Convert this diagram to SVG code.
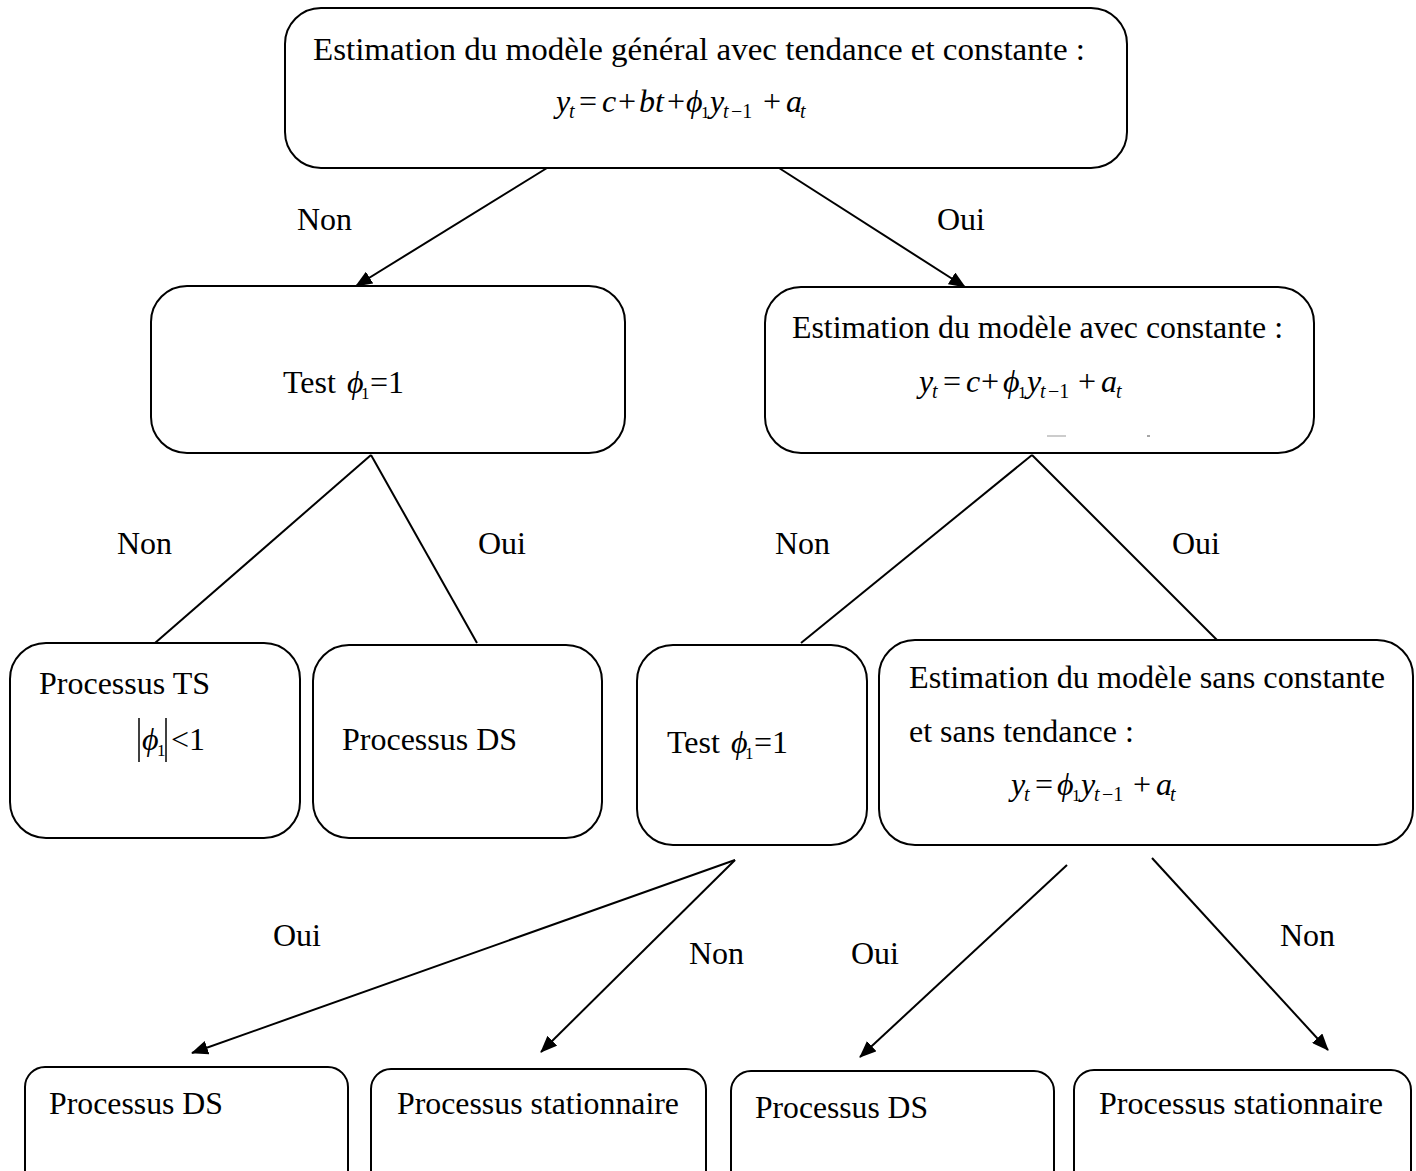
<svg xmlns="http://www.w3.org/2000/svg" width="1416" height="1171" viewBox="0 0 1416 1171">
<style>
.box{fill:#fff;stroke:#000;stroke-width:2}
.t{font-family:"Liberation Serif","Times New Roman","DejaVu Serif",serif;font-size:32px;fill:#000}
.m{font-family:"Liberation Serif","Times New Roman","DejaVu Serif",serif;font-size:32px;font-style:italic;fill:#000}
.r{font-style:normal}
.s{font-size:20px}
.ss{font-size:17px}
.c{stroke:#000;stroke-width:2;fill:none}
</style>
<defs>
<marker id="ah" markerUnits="userSpaceOnUse" markerWidth="18" markerHeight="14" refX="16" refY="7" orient="auto">
<path d="M0,0 L17,7 L0,14 Z" fill="#000"/>
</marker>
</defs>
<rect width="1416" height="1171" fill="#fff"/>

<g id="connectors">
<line class="c" x1="547" y1="168" x2="356" y2="286" marker-end="url(#ah)"/>
<line class="c" x1="779" y1="168" x2="965" y2="287" marker-end="url(#ah)"/>
<line class="c" x1="371" y1="455" x2="155" y2="643"/>
<line class="c" x1="371" y1="455" x2="477" y2="643"/>
<line class="c" x1="1032" y1="455" x2="801" y2="643"/>
<line class="c" x1="1032" y1="455" x2="1217" y2="640"/>
<line class="c" x1="735" y1="860" x2="192" y2="1053" marker-end="url(#ah)"/>
<line class="c" x1="735" y1="860" x2="541" y2="1052" marker-end="url(#ah)"/>
<line class="c" x1="1067" y1="865" x2="860" y2="1057" marker-end="url(#ah)"/>
<line class="c" x1="1152" y1="858" x2="1328" y2="1050" marker-end="url(#ah)"/>
<text class="t" x="297" y="230">Non</text>
<text class="t" x="937" y="230">Oui</text>
<text class="t" x="117" y="554">Non</text>
<text class="t" x="478" y="554">Oui</text>
<text class="t" x="775" y="554">Non</text>
<text class="t" x="1172" y="554">Oui</text>
<text class="t" x="273" y="946">Oui</text>
<text class="t" x="689" y="964">Non</text>
<text class="t" x="851" y="964">Oui</text>
<text class="t" x="1280" y="946">Non</text>
</g>

<g id="n-general">
<rect class="box" x="285" y="8" width="842" height="160" rx="36"/>
<text class="t" x="313" y="60" textLength="772" lengthAdjust="spacingAndGlyphs">Estimation du modèle général avec tendance et constante :</text>
<text class="m" y="112"><tspan x="556">y</tspan><tspan class="s" x="569" y="118">t</tspan><tspan class="r" x="579" y="112">=</tspan><tspan x="602">c</tspan><tspan class="r" x="618">+</tspan><tspan x="639">bt</tspan><tspan class="r" x="667">+</tspan><tspan x="686">ϕ</tspan><tspan class="ss r" x="701" y="118">1</tspan><tspan x="710" y="112">y</tspan><tspan class="s" x="723" y="118">t</tspan><tspan class="s r" x="731" y="118">−1</tspan><tspan class="r" x="763" y="112">+</tspan><tspan x="786">a</tspan><tspan class="s" x="800" y="118">t</tspan></text>
</g>

<g id="n-test1">
<rect class="box" x="151" y="286" width="474" height="167" rx="36"/>
<text class="t" y="393"><tspan x="283">Test</tspan><tspan class="m" x="347">ϕ</tspan><tspan class="ss" x="361" y="399">1</tspan><tspan x="370" y="393">=1</tspan></text>
</g>

<g id="n-const">
<rect class="box" x="765" y="287" width="549" height="166" rx="36"/>
<text class="t" x="792" y="338" textLength="491" lengthAdjust="spacingAndGlyphs">Estimation du modèle avec constante :</text>
<text class="m" y="392"><tspan x="919">y</tspan><tspan class="s" x="932" y="398">t</tspan><tspan class="r" x="943" y="392">=</tspan><tspan x="966">c</tspan><tspan class="r" x="981">+</tspan><tspan x="1003">ϕ</tspan><tspan class="ss r" x="1018" y="398">1</tspan><tspan x="1027" y="392">y</tspan><tspan class="s" x="1040" y="398">t</tspan><tspan class="s r" x="1048" y="398">−1</tspan><tspan class="r" x="1078" y="392">+</tspan><tspan x="1101">a</tspan><tspan class="s" x="1116" y="398">t</tspan></text>
<line x1="1047" y1="436" x2="1066" y2="436" stroke="#bbb" stroke-width="1.5"/>
<line x1="1147" y1="436" x2="1150" y2="436" stroke="#888" stroke-width="1.5"/>
</g>

<g id="n-ts">
<rect class="box" x="10" y="643" width="290" height="195" rx="36"/>
<text class="t" x="39" y="694">Processus TS</text>
<line x1="139" y1="718" x2="139" y2="762" stroke="#000" stroke-width="1.5"/>
<line x1="166" y1="718" x2="166" y2="762" stroke="#000" stroke-width="1.5"/>
<text class="t" y="750"><tspan class="m" x="142">ϕ</tspan><tspan class="ss" x="157" y="756">1</tspan><tspan x="171" y="750">&lt;1</tspan></text>
</g>

<g id="n-ds1">
<rect class="box" x="313" y="645" width="289" height="193" rx="36"/>
<text class="t" x="342" y="750">Processus DS</text>
</g>

<g id="n-test2">
<rect class="box" x="637" y="645" width="230" height="200" rx="36"/>
<text class="t" y="753"><tspan x="667">Test</tspan><tspan class="m" x="731">ϕ</tspan><tspan class="ss" x="745" y="759">1</tspan><tspan x="754" y="753">=1</tspan></text>
</g>

<g id="n-sans">
<rect class="box" x="879" y="640" width="534" height="205" rx="36"/>
<text class="t" x="909" y="688" textLength="476" lengthAdjust="spacingAndGlyphs">Estimation du modèle sans constante</text>
<text class="t" x="909" y="742">et sans tendance :</text>
<text class="m" y="795"><tspan x="1011">y</tspan><tspan class="s" x="1024" y="801">t</tspan><tspan class="r" x="1035" y="795">=</tspan><tspan x="1057">ϕ</tspan><tspan class="ss r" x="1072" y="801">1</tspan><tspan x="1081" y="795">y</tspan><tspan class="s" x="1094" y="801">t</tspan><tspan class="s r" x="1102" y="801">−1</tspan><tspan class="r" x="1133" y="795">+</tspan><tspan x="1156">a</tspan><tspan class="s" x="1170" y="801">t</tspan></text>
</g>

<g id="n-ds2">
<rect class="box" x="25" y="1067" width="323" height="140" rx="20"/>
<text class="t" x="49" y="1114" textLength="174" lengthAdjust="spacingAndGlyphs">Processus DS</text>
</g>

<g id="n-stat1">
<rect class="box" x="371" y="1069" width="335" height="140" rx="20"/>
<text class="t" x="397" y="1114" textLength="282" lengthAdjust="spacingAndGlyphs">Processus stationnaire</text>
</g>

<g id="n-ds3">
<rect class="box" x="731" y="1071" width="323" height="140" rx="20"/>
<text class="t" x="755" y="1118" textLength="173" lengthAdjust="spacingAndGlyphs">Processus DS</text>
</g>

<g id="n-stat2">
<rect class="box" x="1074" y="1070" width="337" height="140" rx="20"/>
<text class="t" x="1099" y="1114" textLength="284" lengthAdjust="spacingAndGlyphs">Processus stationnaire</text>
</g>
</svg>
